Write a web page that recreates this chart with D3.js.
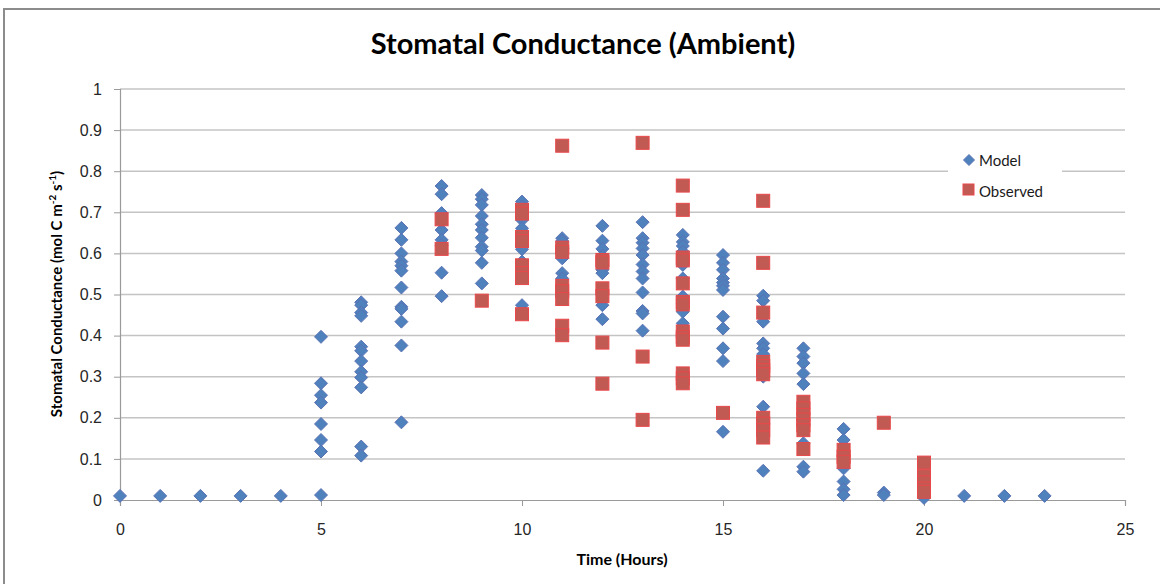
<!DOCTYPE html>
<html>
<head>
<meta charset="utf-8">
<script src="https://cdn.jsdelivr.net/npm/d3@7"></script>
<style>
  body { margin: 0; background: #fff; }
  svg { display: block; font-family: Lato, "Open Sans", sans-serif; }
</style>
</head>
<body>
<svg id="chart" width="1160" height="584"></svg>
<script>
// Hours and values
const hours = d3.range(0, 24);

const modelValues = [
  [0.01], [0.01], [0.01], [0.01], [0.01],
  [0.397, 0.284, 0.255, 0.237, 0.185, 0.146, 0.118, 0.012],
  [0.481, 0.474, 0.456, 0.448, 0.373, 0.363, 0.338, 0.312, 0.298, 0.274, 0.130, 0.108],
  [0.662, 0.633, 0.600, 0.580, 0.570, 0.558, 0.517, 0.470, 0.465, 0.434, 0.376, 0.189],
  [0.764, 0.744, 0.698, 0.657, 0.633, 0.620, 0.553, 0.496],
  [0.742, 0.732, 0.718, 0.691, 0.671, 0.657, 0.638, 0.616, 0.607, 0.577, 0.527],
  [0.726, 0.714, 0.681, 0.661, 0.620, 0.610, 0.580, 0.474],
  [0.637, 0.630, 0.612, 0.588, 0.552, 0.539, 0.503],
  [0.667, 0.631, 0.611, 0.594, 0.560, 0.552, 0.474, 0.440],
  [0.676, 0.637, 0.626, 0.612, 0.596, 0.573, 0.556, 0.539, 0.505, 0.460, 0.454, 0.412],
  [0.645, 0.628, 0.618, 0.604, 0.572, 0.539, 0.495, 0.479, 0.458, 0.430],
  [0.596, 0.577, 0.560, 0.539, 0.529, 0.521, 0.511, 0.446, 0.417, 0.369, 0.338, 0.166],
  [0.497, 0.485, 0.434, 0.381, 0.369, 0.355, 0.300, 0.227, 0.071],
  [0.369, 0.349, 0.333, 0.308, 0.282, 0.138, 0.081, 0.069],
  [0.173, 0.146, 0.077, 0.045, 0.026, 0.012],
  [0.018, 0.012],
  [0.005],
  [0.01], [0.01], [0.01]
];

const observedValues = [
  [], [], [], [], [], [], [], [],
  [0.683, 0.611],
  [0.485],
  [0.706, 0.697, 0.640, 0.630, 0.571, 0.552, 0.540, 0.452],
  [0.862, 0.614, 0.604, 0.521, 0.508, 0.489, 0.424, 0.401],
  [0.584, 0.578, 0.515, 0.496, 0.383, 0.283],
  [0.869, 0.349, 0.195],
  [0.765, 0.706, 0.590, 0.583, 0.527, 0.482, 0.476, 0.410, 0.397, 0.390, 0.308, 0.296, 0.284],
  [0.212],
  [0.728, 0.577, 0.456, 0.336, 0.326, 0.316, 0.306, 0.200, 0.186, 0.170, 0.152],
  [0.239, 0.223, 0.207, 0.196, 0.182, 0.170, 0.124],
  [0.122, 0.105, 0.093],
  [0.188],
  [0.091, 0.058, 0.043, 0.028, 0.020],
  [], [], []
];

const xTicks = [0, 5, 10, 15, 20, 25];
const yTicks = [0, 0.1, 0.2, 0.3, 0.4, 0.5, 0.6, 0.7, 0.8, 0.9, 1];

const svg = d3.select("#chart");

// cadre du graphique
svg.append("rect")
  .attr("x", 4).attr("y", 9)
  .attr("width", 1180).attr("height", 620)
  .attr("fill", "#fff")
  .attr("stroke", "#8c8c8c")
  .attr("stroke-width", 2);

const x = d3.scaleLinear().domain([0, 25]).range([120, 1125]);
const y = d3.scaleLinear().domain([0, 1]).range([500, 89]);

// lignes de grille horizontales
svg.append("g")
  .selectAll("line")
  .data(yTicks.slice(1))
  .join("line")
  .attr("x1", x(0)).attr("x2", x(25))
  .attr("y1", d => y(d)).attr("y2", d => y(d))
  .attr("stroke", "#c4c4c4")
  .attr("stroke-width", 1.5);

// axe Y
const yAxis = svg.append("g")
  .attr("transform", `translate(${x(0)},0)`)
  .call(d3.axisLeft(y).tickValues(yTicks).tickFormat(d3.format("")).tickSize(6).tickPadding(12));
yAxis.select(".domain").attr("stroke", "#9a9a9a").attr("stroke-width", 1.2);
yAxis.selectAll(".tick line").attr("stroke", "#9a9a9a");
yAxis.selectAll("text").attr("font-size", 16).attr("fill", "#262626");

// axe X
const xAxis = svg.append("g")
  .attr("transform", `translate(0,${y(0)})`)
  .call(d3.axisBottom(x).tickValues(xTicks).tickSize(6).tickPadding(18));
xAxis.select(".domain").attr("stroke", "#9a9a9a").attr("stroke-width", 1.2);
xAxis.selectAll(".tick line").attr("stroke", "#9a9a9a");
xAxis.selectAll("text").attr("font-size", 16).attr("fill", "#262626");

// points
const modelPts = [];
const obsPts = [];
hours.forEach((h, i) => {
  modelValues[i].forEach(v => modelPts.push({ h, v }));
  observedValues[i].forEach(v => obsPts.push({ h, v }));
});

const diamond = "M0,-6.5L6.5,0L0,6.5L-6.5,0Z";

svg.append("g")
  .selectAll("path")
  .data(modelPts)
  .join("path")
  .attr("d", diamond)
  .attr("transform", d => `translate(${x(d.h)},${y(d.v)})`)
  .attr("fill", "#4f81bd")
  .attr("stroke", "#5a72b4")
  .attr("stroke-width", 1);

svg.append("g")
  .selectAll("rect")
  .data(obsPts)
  .join("rect")
  .attr("x", d => x(d.h) - 6.5)
  .attr("y", d => y(d.v) - 6.5)
  .attr("width", 13).attr("height", 13)
  .attr("fill", "#c25a54")
  .attr("stroke", "#e8484a")
  .attr("stroke-width", 1);

// titre
svg.append("text")
  .attr("x", 583).attr("y", 54)
  .attr("text-anchor", "middle")
  .attr("font-size", 29)
  .attr("font-weight", "bold")
  .attr("fill", "#000")
  .text("Stomatal Conductance (Ambient)");

// titres des axes
svg.append("text")
  .attr("x", 622).attr("y", 565)
  .attr("text-anchor", "middle")
  .attr("font-size", 16)
  .attr("font-weight", "bold")
  .text("Time (Hours)");

const yTitle = svg.append("text")
  .attr("transform", "translate(62,294) rotate(-90)")
  .attr("text-anchor", "middle")
  .attr("font-size", 15)
  .attr("font-weight", "bold");
yTitle.append("tspan").text("Stomatal Conductance (mol C m");
yTitle.append("tspan").attr("baseline-shift", "super").attr("font-size", 10).text("-2");
yTitle.append("tspan").text(" s");
yTitle.append("tspan").attr("baseline-shift", "super").attr("font-size", 10).text("-1");
yTitle.append("tspan").text(")");

// légende
const legend = svg.append("g");
legend.append("rect")
  .attr("x", 948).attr("y", 145)
  .attr("width", 114).attr("height", 60)
  .attr("fill", "#fff");
legend.append("path")
  .attr("d", "M0,-5.5L5.5,0L0,5.5L-5.5,0Z")
  .attr("transform", "translate(969,160)")
  .attr("fill", "#4f81bd")
  .attr("stroke", "#5a72b4");
legend.append("text")
  .attr("x", 979).attr("y", 166)
  .attr("font-size", 15)
  .attr("fill", "#1a1a1a")
  .text("Model");
legend.append("rect")
  .attr("x", 963).attr("y", 184)
  .attr("width", 11).attr("height", 11)
  .attr("fill", "#c25a54")
  .attr("stroke", "#e8484a");
legend.append("text")
  .attr("x", 979).attr("y", 197)
  .attr("font-size", 15)
  .attr("fill", "#1a1a1a")
  .text("Observed");
</script>
</body>
</html>
